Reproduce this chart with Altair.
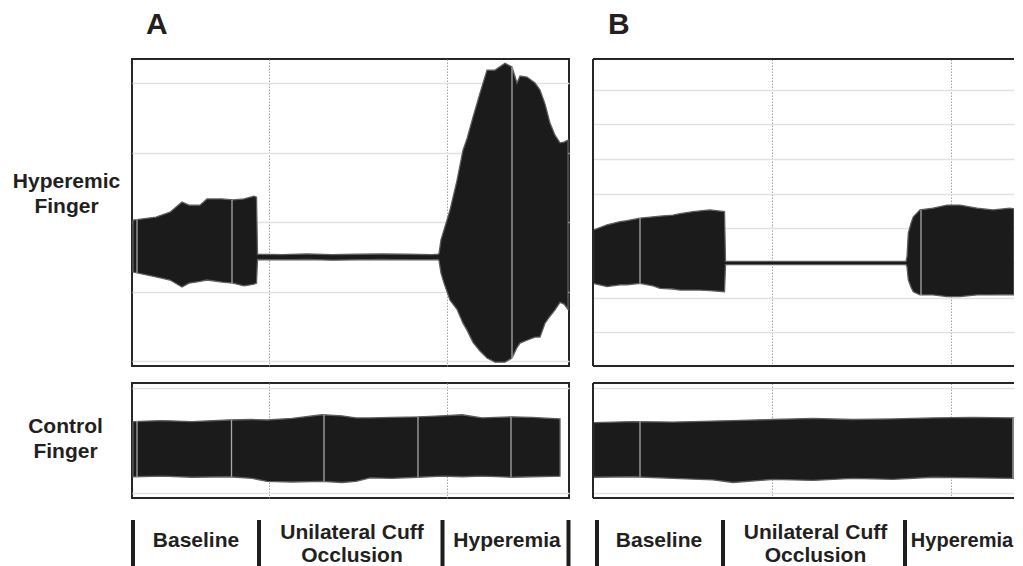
import altair as alt
import pandas as pd

FONT = "Liberation Sans"
INK = "#231f20"

# ---------------- Panel A : hyperemic finger (envelope of the pulse trace) ----------------
A_HYP_T = [1, 24, 38, 50, 57, 68, 75, 90, 101, 112, 122, 124.5,
           125.5, 150, 175, 200, 225, 250, 275, 300, 306,
           307, 309, 312, 318, 325, 331, 335, 341, 348, 355, 363, 373, 380, 385, 388,
           395, 403, 408, 413, 418, 423, 428, 432, 436]
A_HYP_UP = [1.06, 1.15, 1.29, 1.58, 1.49, 1.49, 1.67, 1.67, 1.64, 1.67, 1.75, 1.72,
            0.08, 0.07, 0.09, 0.07, 0.08, 0.09, 0.08, 0.07, 0.08,
            0.10, 0.50, 0.78, 1.35, 2.20, 3.07, 3.40, 4.02, 4.71, 5.37, 5.37, 5.57, 5.46, 5.00, 5.20,
            5.17, 5.00, 4.80, 4.40, 3.85, 3.50, 3.28, 3.30, 3.36]
A_HYP_LOW = [-0.43, -0.57, -0.66, -0.86, -0.75, -0.70, -0.66, -0.72, -0.75, -0.83, -0.78, -0.75,
             -0.07, -0.08, -0.07, -0.09, -0.08, -0.07, -0.08, -0.08, -0.07,
             -0.10, -0.46, -0.75, -1.24, -1.50, -1.90, -2.10, -2.45, -2.70, -2.90, -3.02, -3.02, -2.90, -2.60, -2.47,
             -2.39, -2.30, -2.30, -1.90, -1.70, -1.52, -1.30, -1.35, -1.50]
A_HYP_MARK_T = [5, 100, 380]
A_HYP_MARK_UP = [1.08, 1.64, 5.46]
A_HYP_MARK_LOW = [-0.45, -0.75, -2.90]

# ---------------- Panel A : control finger ----------------
A_CTL_T = [1, 30, 60, 97, 120, 135, 160, 190, 210, 224, 238, 260, 286, 310, 330, 350, 380, 400, 428]
A_CTL_UP = [0.36, 0.38, 0.36, 0.39, 0.40, 0.39, 0.42, 0.49, 0.47, 0.43, 0.43, 0.44, 0.45, 0.47, 0.49, 0.43, 0.45, 0.44, 0.41]
A_CTL_LOW = [-0.69, -0.68, -0.70, -0.69, -0.72, -0.78, -0.79, -0.78, -0.80, -0.78, -0.71, -0.72, -0.70, -0.68, -0.69, -0.68, -0.70, -0.69, -0.68]
A_CTL_MARK_T = [5, 99.5, 192, 286, 379]
A_CTL_MARK_UP = [0.37, 0.39, 0.49, 0.45, 0.45]
A_CTL_MARK_LOW = [-0.69, -0.69, -0.78, -0.70, -0.70]

# ---------------- Panel B : hyperemic finger ----------------
B_HYP_T = [0.5, 14, 27, 34, 47, 60, 67, 80, 87, 100, 107, 117, 131.5,
           132.5, 160, 200, 240, 280, 313,
           314, 315.3, 318, 320.3, 327, 340, 354, 367, 384, 400, 417, 421]
B_HYP_UP = [0.95, 1.10, 1.19, 1.22, 1.29, 1.33, 1.35, 1.38, 1.42, 1.48, 1.50, 1.53, 1.48,
            0.045, 0.045, 0.045, 0.045, 0.045, 0.045,
            0.18, 0.86, 1.15, 1.33, 1.53, 1.58, 1.67, 1.67, 1.58, 1.53, 1.58, 1.56]
B_HYP_LOW = [-0.59, -0.68, -0.63, -0.63, -0.59, -0.66, -0.73, -0.75, -0.78, -0.78, -0.78, -0.80, -0.83,
             -0.045, -0.045, -0.045, -0.045, -0.045, -0.045,
             -0.11, -0.49, -0.70, -0.83, -0.92, -0.92, -0.97, -0.97, -0.92, -0.92, -0.91, -0.92]
B_HYP_MARK_T = [47, 328]
B_HYP_MARK_UP = [1.29, 1.53]
B_HYP_MARK_LOW = [-0.59, -0.92]

# ---------------- Panel B : control finger ----------------
B_CTL_T = [0.5, 40, 80, 120, 140, 180, 220, 260, 300, 340, 380, 421]
B_CTL_UP = [0.34, 0.36, 0.35, 0.37, 0.38, 0.40, 0.42, 0.40, 0.41, 0.43, 0.44, 0.43]
B_CTL_LOW = [-0.70, -0.69, -0.72, -0.75, -0.80, -0.74, -0.76, -0.72, -0.74, -0.70, -0.71, -0.72]
B_CTL_MARK_T = [47, 420]
B_CTL_MARK_UP = [0.36, 0.43]
B_CTL_MARK_LOW = [-0.69, -0.72]

# ---------------- axes / grid values ----------------
A_T_DOMAIN = [0, 437]
B_T_DOMAIN = [0, 421]          # panel B runs off the right edge of the figure
A_HYP_DOMAIN = [-3.13, 5.69]
B_HYP_DOMAIN = [-2.97, 5.88]
CTL_DOMAIN = [-1.095, 1.095]
A_HYP_GRID = [-3, -2, -1, 0, 1, 2, 3, 4, 5]
B_HYP_GRID = [-2, -1, 0, 1, 2, 3, 4, 5]
CTL_GRID = [-1, 1]
A_VGRID = [137, 315]
B_VGRID = [179, 358]

# ---------------- phase annotations ----------------
PHASES = ["Baseline", "Unilateral Cuff\nOcclusion", "Hyperemia"]
A_PHASE_CENTER = [64, 220, 375]
B_PHASE_CENTER = [66, 222.5, 369]
A_PHASE_SIZE = [21, 21, 21]
B_PHASE_SIZE = [21, 21, 20]
A_PHASE_BOUNDS = [1, 127, 310.5, 436.5]
B_PHASE_BOUNDS = [4, 130, 312]

ROW_LABELS = ["Hyperemic\nFinger", "Control\nFinger"]
PANEL_TITLES = ["A", "B"]

W_A = 437
W_B = 421
H_TOP = 307
H_CTL = 115
H_TITLE = 34
H_PHASE = 51
W_LABEL = 100

NOVIEW = alt.ViewBackground(stroke="transparent", strokeWidth=0)
FRAME = "#262626"


def trace_panel(t, up, low, mt, mup, mlow, tdom, ydom, ygrid, xgrid, w, h, open_right=False):
    xs = alt.Scale(domain=tdom, nice=False, zero=False)
    ys = alt.Scale(domain=ydom, nice=False, zero=False)
    xax = alt.Axis(values=xgrid, grid=True, gridColor="#a3a3a3", gridDash=[1.5, 1.5],
                   gridWidth=1, labels=False, ticks=False, domain=False, title=None)
    yax = alt.Axis(values=ygrid, grid=True, gridColor="#e2e2e2", gridWidth=1.5,
                   labels=False, ticks=False, domain=False, title=None)
    df = pd.DataFrame({"t": t, "up": up, "low": low})
    mk = pd.DataFrame({"t": mt, "up": mup, "low": mlow})
    area = alt.Chart(df).mark_area(fill="#1b1b1b", stroke="#5e5e5e", strokeWidth=1.3, clip=True).encode(
        x=alt.X("t:Q", scale=xs, axis=xax),
        y=alt.Y("up:Q", scale=ys, axis=yax),
        y2="low:Q",
    )
    rules = alt.Chart(mk).mark_rule(color="#a8a8a8", strokeWidth=1.3).encode(
        x=alt.X("t:Q", scale=xs),
        y=alt.Y("up:Q", scale=ys),
        y2="low:Q",
    )
    layers = [area, rules]
    if open_right:
        one = pd.DataFrame({"k": [0]})
        layers += [
            alt.Chart(one).mark_rule(color=FRAME, strokeWidth=2).encode(
                x=alt.value(0), x2=alt.value(w), y=alt.value(0)),
            alt.Chart(one).mark_rule(color=FRAME, strokeWidth=2).encode(
                x=alt.value(0), x2=alt.value(w), y=alt.value(h)),
            alt.Chart(one).mark_rule(color=FRAME, strokeWidth=2).encode(
                x=alt.value(0), y=alt.value(0), y2=alt.value(h)),
        ]
        view = NOVIEW
    else:
        view = alt.ViewBackground(stroke=FRAME, strokeWidth=2)
    return alt.layer(*layers).properties(width=w, height=h, view=view)


def text_panel(label, w, h, x, y, size, align):
    return alt.Chart(pd.DataFrame({"label": [label]})).mark_text(
        font=FONT, fontWeight="bold", fontSize=size, align=align, baseline="alphabetic",
        lineBreak="\n", lineHeight=25, color=INK,
    ).encode(text="label:N", x=alt.value(x), y=alt.value(y)).properties(
        width=w, height=h, view=NOVIEW
    )


def blank_panel(w, h):
    return alt.Chart(pd.DataFrame({"label": [""]})).mark_text(fontSize=1).encode(
        text="label:N", x=alt.value(w / 2), y=alt.value(h / 2)
    ).properties(width=w, height=h, view=NOVIEW)


def phase_panel(bounds, centers, sizes, tdom, w):
    xs = alt.Scale(domain=tdom, nice=False, zero=False)
    bdf = pd.DataFrame({"t": bounds})
    ldf = pd.DataFrame({"t": centers, "label": PHASES, "fs": sizes,
                        "lines": [p.count("\n") + 1 for p in PHASES]})
    bars = alt.Chart(bdf).mark_rule(color="#1e1e1e", strokeWidth=4).encode(
        x=alt.X("t:Q", scale=xs, axis=None), y=alt.value(5), y2=alt.value(H_PHASE)
    )
    base = alt.Chart(ldf).mark_text(
        font=FONT, fontWeight="bold", align="center", baseline="alphabetic",
        lineBreak="\n", lineHeight=23, color=INK,
    )
    enc = dict(x=alt.X("t:Q", scale=xs, axis=None), text="label:N",
               size=alt.Size("fs:Q", scale=None, legend=None))
    one = base.transform_filter("datum.lines == 1").encode(y=alt.value(32), **enc)
    two = base.transform_filter("datum.lines == 2").encode(y=alt.value(24), **enc)
    return alt.layer(bars, one, two).properties(width=w, height=H_PHASE, view=NOVIEW)


charts = [
    blank_panel(W_LABEL, H_TITLE),
    text_panel(PANEL_TITLES[0], W_A, H_TITLE, 14, 26, 30, "left"),
    text_panel(PANEL_TITLES[1], W_B, H_TITLE, 15, 25.5, 30, "left"),

    text_panel(ROW_LABELS[0], W_LABEL, H_TOP, 58.5, 129, 21, "center"),
    trace_panel(A_HYP_T, A_HYP_UP, A_HYP_LOW, A_HYP_MARK_T, A_HYP_MARK_UP, A_HYP_MARK_LOW,
                A_T_DOMAIN, A_HYP_DOMAIN, A_HYP_GRID, A_VGRID, W_A, H_TOP),
    trace_panel(B_HYP_T, B_HYP_UP, B_HYP_LOW, B_HYP_MARK_T, B_HYP_MARK_UP, B_HYP_MARK_LOW,
                B_T_DOMAIN, B_HYP_DOMAIN, B_HYP_GRID, B_VGRID, W_B, H_TOP, open_right=True),

    text_panel(ROW_LABELS[1], W_LABEL, H_CTL, 57.5, 49.7, 21, "center"),
    trace_panel(A_CTL_T, A_CTL_UP, A_CTL_LOW, A_CTL_MARK_T, A_CTL_MARK_UP, A_CTL_MARK_LOW,
                A_T_DOMAIN, CTL_DOMAIN, CTL_GRID, A_VGRID, W_A, H_CTL),
    trace_panel(B_CTL_T, B_CTL_UP, B_CTL_LOW, B_CTL_MARK_T, B_CTL_MARK_UP, B_CTL_MARK_LOW,
                B_T_DOMAIN, CTL_DOMAIN, CTL_GRID, B_VGRID, W_B, H_CTL, open_right=True),

    blank_panel(W_LABEL, H_PHASE),
    phase_panel(A_PHASE_BOUNDS, A_PHASE_CENTER, A_PHASE_SIZE, A_T_DOMAIN, W_A),
    phase_panel(B_PHASE_BOUNDS, B_PHASE_CENTER, B_PHASE_SIZE, B_T_DOMAIN, W_B),
]

chart = alt.concat(
    *charts, columns=3, spacing={"row": 17, "column": 24}, bounds="flush"
).properties(
    padding=0, background="white"
).configure_view(stroke="transparent")

chart.save("out.html", embed_options={"renderer": "svg", "actions": False})
